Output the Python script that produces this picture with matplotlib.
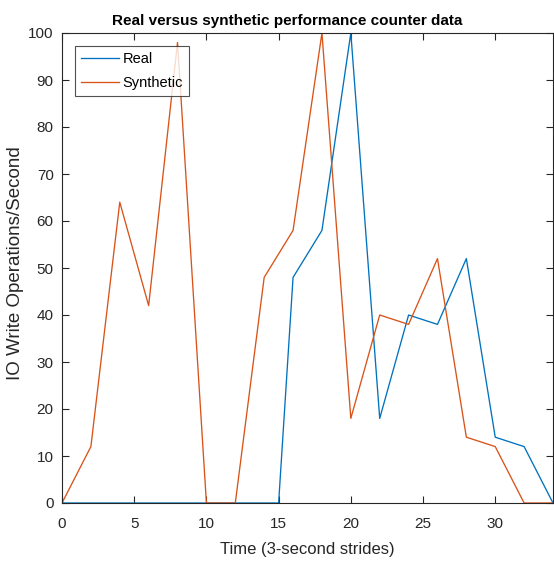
import matplotlib
matplotlib.use("Agg")
import matplotlib.pyplot as plt

plt.rcParams['font.family'] = ['Liberation Sans', 'DejaVu Sans']

real_x = [0, 2, 4, 6, 8, 10, 12, 14, 15, 16, 18, 20, 22, 24, 26, 28, 30, 32, 34]
real_y = [0, 0, 0, 0, 0, 0, 0, 0, 0, 48, 58, 100, 18, 40, 38, 52, 14, 12, 0]

synth_x = [0, 2, 4, 6, 8, 10, 12, 14, 16, 18, 20, 22, 24, 26, 28, 30, 32, 34]
synth_y = [0, 12, 64, 42, 98, 0, 0, 48, 58, 100, 18, 40, 38, 52, 14, 12, 0, 0]

fig = plt.figure(figsize=(5.54, 5.61), dpi=100)
ax = fig.add_axes([62/554, 58/561, 491/554, 470/561])

ax.plot(real_x, real_y, color='#0072BD', linewidth=0.95, label='Real')
ax.plot(synth_x, synth_y, color='#D95319', linewidth=0.95, label='Synthetic')

ax.set_xlim(0, 34)
ax.set_ylim(0, 100)
ax.set_xticks([0, 5, 10, 15, 20, 25, 30])
ax.set_yticks(range(0, 101, 10))
ax.tick_params(direction='in', top=True, right=True, labelsize=11, colors='#262626', length=5)
ax.tick_params(axis='x', pad=10)
ax.tick_params(axis='y', pad=6)
for s in ax.spines.values():
    s.set_color('#262626')
    s.set_linewidth(0.8)

ax.set_xlabel('Time (3-second strides)', fontsize=12, color='#262626', labelpad=8)
ax.set_ylabel('IO Write Operations/Second', fontsize=13.5, color='#262626')
ax.yaxis.set_label_coords(-0.078, 0.51)
ax.set_title('Real versus synthetic performance counter data', fontsize=11,
             fontweight='bold', pad=6, x=0.458)

leg = ax.legend(loc='upper left', fontsize=10.5, fancybox=False, edgecolor='#262626',
                borderaxespad=0.9, handlelength=2.6, handletextpad=0.25,
                borderpad=0.4, labelspacing=0.7)
leg.get_frame().set_linewidth(0.8)

fig.savefig('out.png', dpi=100)
